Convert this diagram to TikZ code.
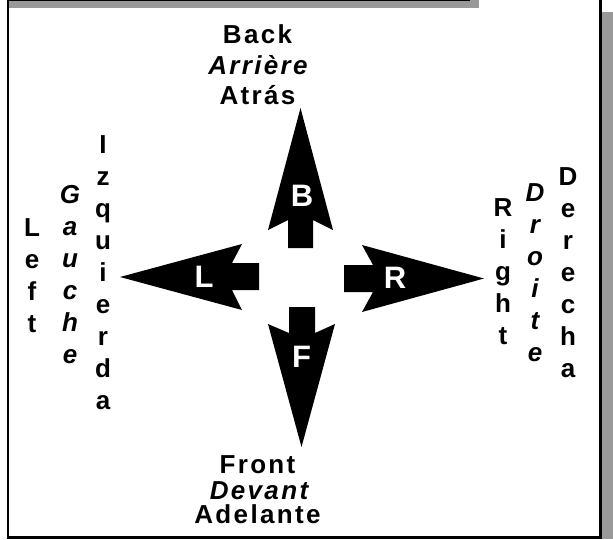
\documentclass[tikz,border=0pt]{standalone}
\usepackage{fontspec}
\setmainfont{Liberation Sans}
\newfontfamily\spacedfont[LetterSpace=9]{Liberation Sans}
\definecolor{shadowgray}{RGB}{153,153,153}
\tikzset{
  frameline/.style={line width=2.6pt, black},
  arrowshape/.style={fill=black, draw=none},
  arrowletter/.style={text=white, inner sep=0pt, font=\fontsize{31}{31}\selectfont\bfseries},
  titletext/.style={inner sep=0pt, anchor=base, font=\fontsize{26}{26}\selectfont\spacedfont\bfseries},
  columntext/.style={inner sep=0pt, align=center, anchor=center, font=\fontsize{26}{32}\selectfont\bfseries},
}
\begin{document}
\begin{tikzpicture}[x=1pt,y=-1pt]
\useasboundingbox (0,0) rectangle (613,539);
% shadows
\fill[shadowgray] (9,0) rectangle (479,8);
\draw[line width=1pt] (9,0.5) -- (470,0.5);
\fill[shadowgray] (602,12) rectangle (613,539);
% frame
\draw[frameline] (8,0) -- (8,537.7) -- (600.5,537.7) -- (600.5,0);
% arrows
\fill[arrowshape] (300.5,108) -- (333,230) -- (313,220) -- (313,248) -- (288,248) -- (288,220) -- (268,230) -- cycle;
\fill[arrowshape] (120,277) -- (242,244) -- (232,263) -- (259,263) -- (259,290) -- (232,290) -- (242,310) -- cycle;
\fill[arrowshape] (484,278.5) -- (362,245) -- (373,265) -- (344,265) -- (344,292) -- (373,292) -- (362,312) -- cycle;
\fill[arrowshape] (301.5,447) -- (335,324) -- (315,333) -- (315,307) -- (289,307) -- (289,333) -- (268,324) -- cycle;
\node[arrowletter] (b) at (302,196) {B};
\node[arrowletter] (l) at (204,277) {L};
\node[arrowletter] (r) at (395,278) {R};
\node[arrowletter] (f) at (301.5,357) {F};
% top titles
\node[titletext] (back) at (257.5,43) {Back};
\node[titletext] (arriere) at (258,74) {\itshape Arrière};
\node[titletext] (atras) at (257.5,104.5) {Atrás};
% bottom titles
\node[titletext] (front) at (257.5,473) {Front};
\node[titletext] (devant) at (259,499) {\itshape Devant};
\node[titletext] (adelante) at (257.5,523) {Adelante};
% columns
\node[columntext] (left) at (32,275.5) {L\\e\\f\\t};
\node[columntext] (gauche) at (70,275) {\itshape G\\\itshape a\\\itshape u\\\itshape c\\\itshape h\\\itshape e};
\node[columntext] (izq) at (103,272.5) {I\\z\\q\\u\\i\\e\\r\\d\\a};
\node[columntext] (right) at (503,271.5) {R\\i\\g\\h\\t};
\node[columntext] (droite) at (535,273) {\itshape D\\\itshape r\\\itshape o\\\itshape i\\\itshape t\\\itshape e};
\node[columntext] (derecha) at (568,272.5) {D\\e\\r\\e\\c\\h\\a};
\end{tikzpicture}
\end{document}
